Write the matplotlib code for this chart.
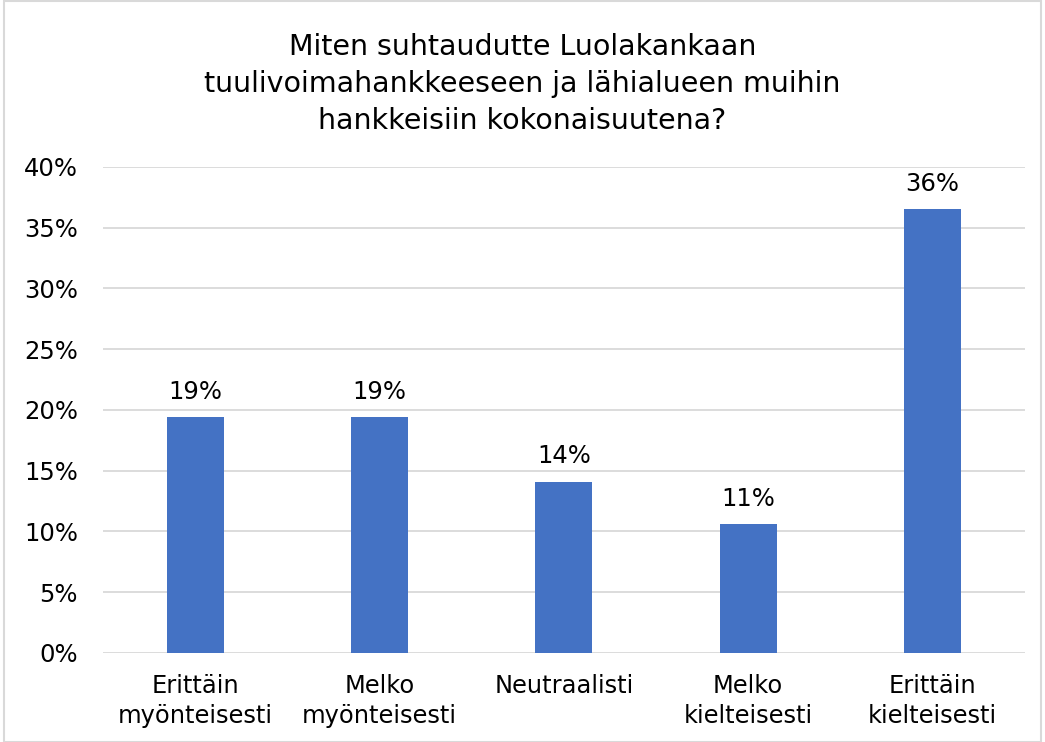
import matplotlib.pyplot as plt
from matplotlib.patches import Rectangle
from matplotlib.ticker import FuncFormatter, MultipleLocator

categories = ['Erittäin\nmyönteisesti', 'Melko\nmyönteisesti', 'Neutraalisti',
              'Melko\nkielteisesti', 'Erittäin\nkielteisesti']
values = [19.4, 19.4, 14.1, 10.6, 36.5]
labels = ['19%', '19%', '14%', '11%', '36%']
title = 'Miten suhtaudutte Luolakankaan\ntuulivoimahankkeeseen ja lähialueen muihin\nhankkeisiin kokonaisuutena?'

bar_color = '#4472C4'
grid_color = '#D9D9D9'
text_color = '#000000'

fig = plt.figure(figsize=(10.45, 7.42), dpi=100)
ax = fig.add_axes([0.0986, 0.12, 0.882, 0.655])

x = range(len(categories))
ax.bar(x, values, width=0.31, color=bar_color, zorder=3)
for xi, v, lab in zip(x, values, labels):
    ax.text(xi, v + 1.1, lab, ha='center', va='bottom', fontsize=17.5, color=text_color)

ax.set_ylim(0, 40)
ax.set_xlim(-0.5, len(categories) - 0.5)
ax.yaxis.set_major_locator(MultipleLocator(5))
ax.yaxis.set_major_formatter(FuncFormatter(lambda v, p: f'{v:.0f}%'))
ax.grid(axis='y', color=grid_color, linewidth=1.3, zorder=0)
ax.set_xticks(list(x))
ax.set_xticklabels(categories, fontsize=17.4, color=text_color, linespacing=1.32)
ax.tick_params(axis='y', labelsize=17.5, length=0, pad=18, colors=text_color)
ax.tick_params(axis='x', length=0, pad=15)
for s in ax.spines.values():
    s.set_visible(False)

fig.text(0.5, 0.955, title, ha='center', va='top', fontsize=20.5, linespacing=1.4, color=text_color)

fig.patches.append(Rectangle((0.004, 0.0), 0.992, 0.998, transform=fig.transFigure,
                             fill=False, edgecolor='#D9D9D9', linewidth=1.5))

fig.savefig('out.png', dpi=100)
